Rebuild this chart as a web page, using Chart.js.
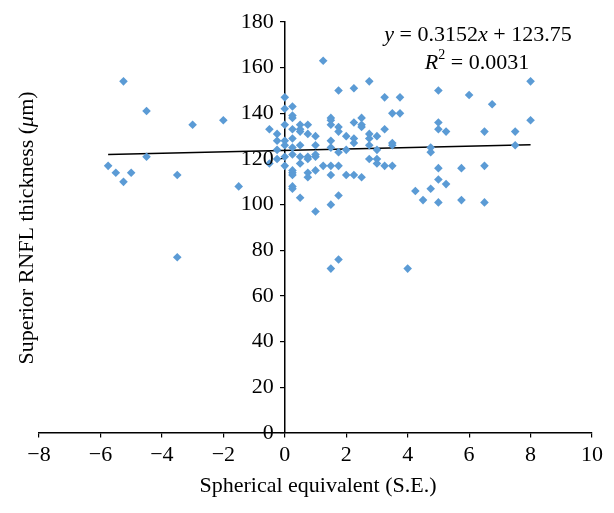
<!DOCTYPE html>
<html>
<head>
<meta charset="utf-8">
<script src="https://cdn.jsdelivr.net/npm/chart.js@4.4.1/dist/chart.umd.min.js"></script>
<style>
  html, body { margin: 0; padding: 0; background: #fff; }
  #wrap { width: 614px; height: 513px; position: relative; }
</style>
</head>
<body>
<div id="wrap"><canvas id="rnflChart"></canvas></div>
<script>
// spherical equivalent (x) and superior RNFL thickness (y)
const seX = [
  -5.75, -5.5, -5.25, -5.25, -5, -4.5, -4.5, -3.5, -3.5, -3, -2, -1.5,
  -0.5, -0.5, -0.25, -0.25, -0.25, -0.25,
  0, 0, 0, 0, 0, 0, 0,
  0.25, 0.25, 0.25, 0.25, 0.25, 0.25, 0.25, 0.25, 0.25, 0.25, 0.25, 0.25,
  0.5, 0.5, 0.5, 0.5, 0.5, 0.5, 0.5,
  0.75, 0.75, 0.75, 0.75, 0.75, 0.75,
  1, 1, 1, 1, 1, 1,
  1.25, 1.25,
  1.5, 1.5, 1.5, 1.5, 1.5, 1.5, 1.5, 1.5, 1.5,
  1.75, 1.75, 1.75, 1.75, 1.75, 1.75, 1.75,
  2, 2, 2,
  2.25, 2.25, 2.25, 2.25, 2.25,
  2.5, 2.5, 2.5, 2.5,
  2.75, 2.75, 2.75, 2.75, 2.75,
  3, 3, 3, 3,
  3.25, 3.25, 3.25,
  3.5, 3.5, 3.5, 3.5,
  3.75, 3.75,
  4, 4.25, 4.5,
  4.75, 4.75, 4.75,
  5, 5, 5, 5, 5, 5,
  5.25, 5.25,
  5.75, 5.75,
  6,
  6.5, 6.5, 6.5,
  6.75,
  7.5, 7.5,
  8, 8
];
const rnflY = [
  117, 114, 110, 154, 114, 141, 121, 113, 77, 135, 137, 108,
  133, 118, 131, 128, 124, 120,
  147, 142, 135, 128, 126, 121, 117,
  143, 139, 138, 133, 129, 125, 122, 115, 114, 113, 108, 107,
  135, 133, 132, 126, 121, 118, 103,
  135, 131, 121, 120, 114, 112,
  130, 126, 122, 121, 115, 97,
  163, 117,
  138, 137, 135, 128, 125, 117, 113, 100, 72,
  150, 134, 132, 123, 117, 104, 76,
  130, 124, 113,
  151, 136, 129, 127, 113,
  138, 135, 134, 112,
  154, 131, 129, 126, 120,
  130, 124, 120, 118,
  147, 133, 117,
  140, 127, 126, 117,
  147, 140,
  72, 106, 102,
  125, 123, 107,
  150, 136, 133, 116, 111, 101,
  132, 109,
  116, 102,
  148,
  132, 117, 101,
  144,
  132, 126,
  154, 137
];

// linear trendline y = 0.3152x + 123.75, drawn between the outermost points
const trendX = [-5.75, 8];
const trendY = [121.94, 126.27];

const xTicks = [-8, -6, -4, -2, 0, 2, 4, 6, 8, 10];
const yTicks = [0, 20, 40, 60, 80, 100, 120, 140, 160, 180];

const SERIF = '"Liberation Serif", "DejaVu Serif", serif';
const FONT_SIZE = 22;

// draw a line of text made of runs with different styles, centred on cx
function drawRuns(ctx, runs, cx, baseline) {
  let total = 0;
  runs.forEach(r => {
    ctx.font = r.font;
    r.w = ctx.measureText(r.text).width;
    total += r.w;
  });
  let x = cx - total / 2;
  runs.forEach(r => {
    ctx.font = r.font;
    ctx.fillText(r.text, x, baseline + (r.dy || 0));
    x += r.w;
  });
}

const textPlugin = {
  id: 'textPlugin',
  afterDraw(chart) {
    const ctx = chart.ctx;
    const reg = FONT_SIZE + 'px ' + SERIF;
    const ita = 'italic ' + FONT_SIZE + 'px ' + SERIF;
    const sup = '14px ' + SERIF;
    const xs = chart.scales.x, ys = chart.scales.y;
    ctx.save();
    ctx.fillStyle = '#000';

    // y tick labels sit left of the centre axis
    ctx.font = reg;
    ctx.textAlign = 'right';
    ctx.textBaseline = 'middle';
    const axisX = xs.getPixelForValue(0);
    ys.ticks.forEach(t => {
      ctx.fillText(String(t.value), axisX - 11, ys.getPixelForValue(t.value));
    });

    ctx.textAlign = 'left';
    ctx.textBaseline = 'alphabetic';

    // x axis title
    drawRuns(ctx, [{ text: 'Spherical equivalent (S.E.)', font: reg }], 318, 492);

    // y axis title, rotated
    ctx.save();
    ctx.translate(33, 228);
    ctx.rotate(-Math.PI / 2);
    drawRuns(ctx, [
      { text: 'Superior RNFL thickness (', font: reg },
      { text: 'μ', font: ita },
      { text: 'm)', font: reg }
    ], 0, 0);
    ctx.restore();

    // trendline equation
    drawRuns(ctx, [
      { text: 'y', font: ita },
      { text: ' = 0.3152', font: reg },
      { text: 'x', font: ita },
      { text: ' + 123.75', font: reg }
    ], 478, 41);
    drawRuns(ctx, [
      { text: 'R', font: ita },
      { text: '2', font: sup, dy: -10 },
      { text: ' = 0.0031', font: reg }
    ], 477, 69);
    ctx.restore();
  }
};

const ctx = document.getElementById('rnflChart').getContext('2d');

new Chart(ctx, {
  type: 'scatter',
  data: {
    datasets: [
      {
        label: 'RNFL',
        data: seX.map((x, i) => ({ x, y: rnflY[i] })),
        pointStyle: 'rectRot',
        pointRadius: 4.3,
        backgroundColor: '#5b9bd5',
        borderColor: '#5b9bd5',
        borderWidth: 0
      },
      {
        type: 'line',
        label: 'Trend',
        data: trendX.map((x, i) => ({ x, y: trendY[i] })),
        borderColor: '#000',
        borderWidth: 1.5,
        pointRadius: 0,
        fill: false
      }
    ]
  },
  options: {
    responsive: true,
    maintainAspectRatio: false,
    animation: false,
    layout: { padding: { left: 39, right: 22, top: 22, bottom: 80 } },
    plugins: {
      legend: { display: false },
      tooltip: { enabled: false }
    },
    scales: {
      x: {
        type: 'linear',
        position: { y: 0 },
        min: -8,
        max: 10,
        afterBuildTicks: axis => { axis.ticks = xTicks.map(v => ({ value: v })); },
        ticks: {
          color: '#000',
          padding: 5,
          maxRotation: 0,
          font: { family: SERIF, size: FONT_SIZE },
          callback: v => (v < 0 ? '\u2212' + Math.abs(v) : String(v))
        },
        grid: { drawOnChartArea: false, drawTicks: true, tickLength: 4, color: '#000', lineWidth: 1.2 },
        border: { display: true, color: '#000', width: 1.5 }
      },
      y: {
        type: 'linear',
        position: { x: 0 },
        min: 0,
        max: 180,
        afterBuildTicks: axis => { axis.ticks = yTicks.map(v => ({ value: v })); },
        ticks: { display: false },
        grid: { drawOnChartArea: false, drawTicks: true, tickLength: 4, color: '#000', lineWidth: 1.2 },
        border: { display: true, color: '#000', width: 1.5 }
      }
    }
  },
  plugins: [textPlugin]
});
</script>
</body>
</html>
